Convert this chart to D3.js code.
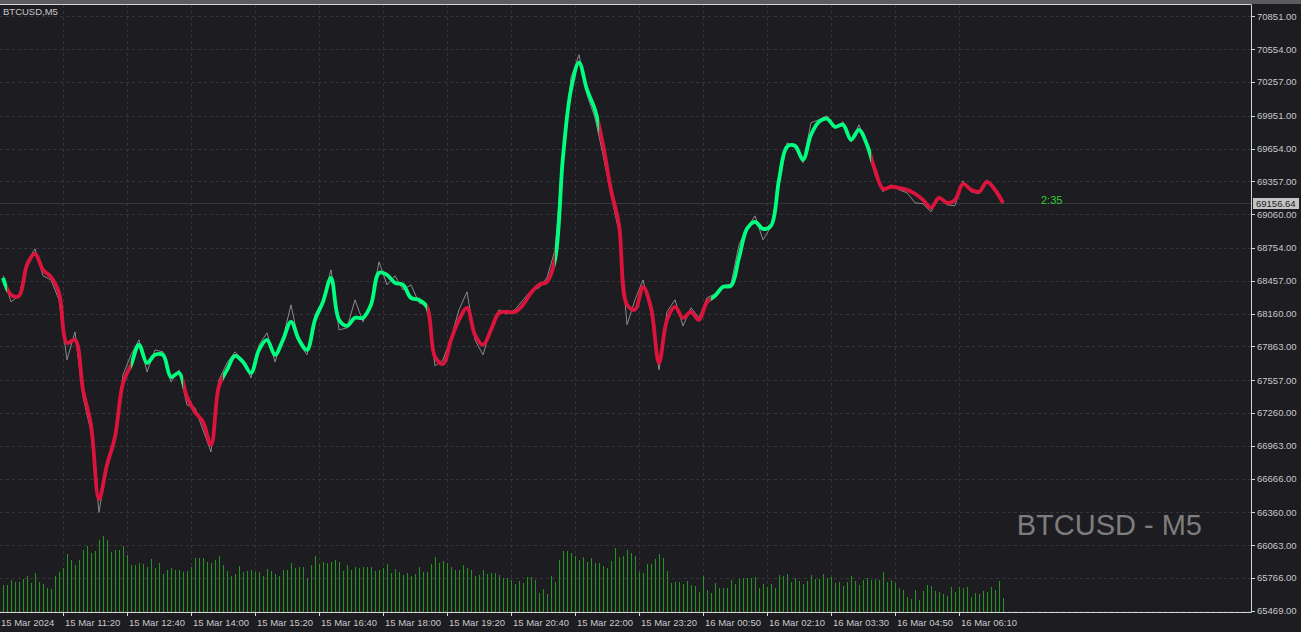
<!DOCTYPE html>
<html><head><meta charset="utf-8">
<script src="https://cdn.jsdelivr.net/npm/d3@7"></script>
<style>html,body{margin:0;padding:0;background:#1c1c21;overflow:hidden}</style>
</head><body><svg id="c" width="1301" height="632"></svg>
<script>
const symbolLabel = "BTCUSD,M5";
const watermark = "BTCUSD - M5";
const timerText = "2:35";
const lastPrice = 69156.64;
const priceTicks = [70851,70554,70257,69951,69654,69357,69060,68754,68457,68160,67863,67557,67260,66963,66666,66360,66063,65766,65469];
const timeLabels = ["15 Mar 2024","15 Mar 11:20","15 Mar 12:40","15 Mar 14:00","15 Mar 15:20","15 Mar 16:40","15 Mar 18:00","15 Mar 19:20","15 Mar 20:40","15 Mar 22:00","15 Mar 23:20","16 Mar 00:50","16 Mar 02:10","16 Mar 03:30","16 Mar 04:50","16 Mar 06:10"];
const timeLabelBars = [-1,15,31,47,63,79,95,111,127,143,159,175,191,207,223,239];
// smoothed trend line, sampled every 2 bars
const smoothLine = [68483,68329,68320,68601,68701,68556,68492,68348,67894,67922,67469,67151,66480,66789,67043,67532,67695,67876,67713,67786,67786,67586,67623,67405,67269,67179,66970,67505,67650,67777,67722,67623,67831,67922,67786,67922,68085,67922,67831,68103,68266,68483,68103,68048,68121,68121,68239,68529,68511,68438,68420,68302,68284,68221,67768,67704,67922,68103,68212,67967,67876,68012,68166,68175,68175,68239,68348,68420,68447,68647,69580,70187,70432,70187,70006,69689,69281,68964,68239,68194,68402,68212,67713,68103,68221,68121,68175,68103,68266,68320,68402,68411,68665,68927,68991,68927,68955,69371,69670,69680,69553,69779,69897,69924,69852,69870,69734,69824,69689,69462,69290,69308,69299,69281,69245,69190,69118,69208,69163,69190,69335,69281,69263,69353,69281,69163];
// close prices, sampled every 2 bars
const closeLine = [68502,68266,68320,68628,68746,68502,68465,68284,67741,67994,67405,67088,66360,66816,67016,67605,67786,67922,67632,67831,67813,67541,67650,67333,67306,67106,66907,67559,67713,67813,67741,67577,67876,67985,67722,67940,68239,67894,67786,68148,68284,68556,68012,68030,68284,68085,68257,68628,68420,68502,68375,68420,68257,68230,67686,67741,67940,68194,68357,67922,67786,68030,68194,68157,68194,68284,68366,68393,68483,68737,69643,70296,70504,70142,69933,69598,69236,68900,68058,68284,68465,68175,67650,68175,68284,68048,68212,68121,68302,68339,68411,68429,68783,68937,69045,68828,68946,69326,69707,69661,69525,69888,69915,69951,69834,69897,69716,69870,69670,69417,69263,69326,69281,69254,69163,69154,69082,69217,69145,69136,69362,69263,69245,69371,69263,69156.64];
const sampleStep = 2;
const volumes = [80,80,95,91,91,100,108,86,116,90,83,73,70,107,121,131,173,155,140,155,185,197,176,182,217,227,217,179,187,186,197,172,140,142,148,145,135,158,131,146,113,125,133,127,127,119,124,135,163,161,161,151,148,155,167,140,124,107,115,137,119,124,125,119,119,107,130,122,113,107,127,125,146,133,135,136,103,140,167,143,151,146,151,155,151,122,140,127,134,131,134,134,134,123,125,133,143,116,128,119,110,118,107,113,134,119,121,143,164,148,
152,146,134,127,127,140,132,126,107,111,125,113,116,116,110,101,101,95,83,92,86,104,104,95,56,68,53,107,89,157,182,182,178,167,155,164,150,161,148,146,137,133,154,191,164,167,185,176,167,119,116,143,143,158,173,161,124,86,89,89,83,92,80,77,59,107,65,56,86,73,71,71,95,83,98,101,101,101,104,71,83,74,83,71,110,109,113,89,101,92,83,92,110,100,100,113,101,104,86,89,77,89,107,92,80,95,101,
95,100,95,119,89,95,86,71,65,44,38,65,35,62,80,77,62,59,53,47,74,59,74,71,74,44,56,53,62,59,74,65,92,41];
// bars where the trend colour flips, starting with an up-trend
const trendStart = "up";
const trendBreaks = [1,32,45,55,106,138,149,177,217];

const W = 1301, H = 632;
const plotRight = 1251, plotTop = 5, plotBottom = 612;
const svg = d3.select("#c");
const FONT = "'Liberation Sans', Arial, sans-serif";
const C = {bg:"#1c1c21", grid:"#34343a", axis:"#d4d4d4", text:"#c8c8c8", up:"#00ff7f", down:"#dc143c", close:"#8a8a8a", vol:"rgb(34,150,30)"};

svg.append("rect").attr("width",W).attr("height",H).attr("fill",C.bg);
svg.append("rect").attr("x",0).attr("y",0).attr("width",W).attr("height",4).attr("fill","#5c5c60");

const x = d3.scaleLinear().domain([0,250]).range([3,1003]);
const y = d3.scaleLinear().domain([65469,70851]).range([610.7,16.4]);
const yv = d3.scaleLinear().domain([0,240]).range([plotBottom,plotBottom-80]);

// grid
const grid = svg.append("g");
grid.selectAll(null).data(priceTicks).join("line")
  .attr("x1",0).attr("x2",plotRight).attr("y1",d=>Math.round(y(d))+0.5).attr("y2",d=>Math.round(y(d))+0.5)
  .attr("stroke",C.grid).attr("stroke-dasharray","3,3");
grid.selectAll(null).data(timeLabelBars).join("line")
  .attr("x1",d=>x(d)+0.5).attr("x2",d=>x(d)+0.5).attr("y1",plotTop).attr("y2",plotBottom)
  .attr("stroke",C.grid).attr("stroke-dasharray","3,3");

// bid line
svg.append("line").attr("x1",0).attr("x2",plotRight).attr("y1",Math.round(y(lastPrice))+0.5).attr("y2",Math.round(y(lastPrice))+0.5)
  .attr("stroke","#36363c");

// volumes
svg.append("g").selectAll(null).data(volumes).join("rect")
  .attr("x",(d,i)=>x(i)).attr("width",1)
  .attr("y",d=>yv(d)).attr("height",d=>plotBottom-yv(d))
  .attr("fill",C.vol).attr("shape-rendering","crispEdges");

// watermark
svg.append("text").attr("x",1202).attr("y",535).attr("text-anchor","end")
  .attr("font-family",FONT).attr("font-size",29).attr("fill","#7d7d7d").text(watermark);

// close line
const pts = (arr)=>arr.map((v,i)=>[x(i*sampleStep), y(v)]);
svg.append("path").attr("d", d3.line().curve(d3.curveLinear)(pts(closeLine)))
  .attr("fill","none").attr("stroke",C.close).attr("stroke-width",1);

// trend colour gradient
const defs = svg.append("defs");
const grad = defs.append("linearGradient").attr("id","trend").attr("gradientUnits","userSpaceOnUse")
  .attr("x1",0).attr("x2",W).attr("y1",0).attr("y2",0);
const stops = [];
const edges = [0, ...trendBreaks.map(b=>x(b)/W), 1];
for (let k=0;k<edges.length-1;k++){
  const col = (k%2===0) === (trendStart==="up") ? C.up : C.down;
  stops.push([edges[k],col],[edges[k+1],col]);
}
grad.selectAll("stop").data(stops).join("stop").attr("offset",d=>d[0]).attr("stop-color",d=>d[1]);
svg.append("path").attr("d", d3.line().curve(d3.curveCatmullRom.alpha(0.5))(pts(smoothLine)))
  .attr("fill","none").attr("stroke","url(#trend)").attr("stroke-width",3.8).attr("stroke-linejoin","round");

// frame
svg.append("line").attr("x1",0).attr("x2",plotRight+0.5).attr("y1",4.5).attr("y2",4.5).attr("stroke",C.axis);
svg.append("line").attr("x1",plotRight+0.5).attr("x2",plotRight+0.5).attr("y1",4.5).attr("y2",plotBottom+0.5).attr("stroke",C.axis);
svg.append("line").attr("x1",0).attr("x2",plotRight+0.5).attr("y1",plotBottom+0.5).attr("y2",plotBottom+0.5).attr("stroke",C.axis);

// price axis
const ya = svg.append("g");
ya.selectAll(null).data(priceTicks).join("line")
  .attr("x1",plotRight).attr("x2",plotRight+4).attr("y1",d=>Math.round(y(d))+0.5).attr("y2",d=>Math.round(y(d))+0.5).attr("stroke",C.axis);
ya.selectAll(null).data(priceTicks).join("text")
  .attr("x",1257).attr("y",d=>y(d)+3.5).attr("font-family",FONT).attr("font-size",9.5).attr("fill",C.text)
  .text(d=>d3.format(".2f")(d));
// last price box
const ly = y(lastPrice);
svg.append("rect").attr("x",1253).attr("y",ly-5.5).attr("width",46).attr("height",11).attr("fill","#c4c4c4");
svg.append("text").attr("x",1256).attr("y",ly+3.5).attr("font-family",FONT).attr("font-size",9.5).attr("fill","#1c1c21").text(d3.format(".2f")(lastPrice));

// time axis
const xa = svg.append("g");
xa.selectAll(null).data(timeLabelBars).join("line")
  .attr("x1",d=>x(d)+0.5).attr("x2",d=>x(d)+0.5).attr("y1",plotBottom).attr("y2",plotBottom+4).attr("stroke",C.axis);
xa.selectAll(null).data(timeLabels).join("text")
  .attr("x",(d,i)=>x(timeLabelBars[i])+2).attr("y",626).attr("font-family",FONT).attr("font-size",9.5).attr("fill",C.text).text(d=>d);

// labels
svg.append("text").attr("x",3).attr("y",15).attr("font-family",FONT).attr("font-size",9.5).attr("fill",C.text).text(symbolLabel);
svg.append("text").attr("x",1041).attr("y",204).attr("font-family",FONT).attr("font-size",11).attr("fill","#32cd32").text(timerText);
</script></body></html>
